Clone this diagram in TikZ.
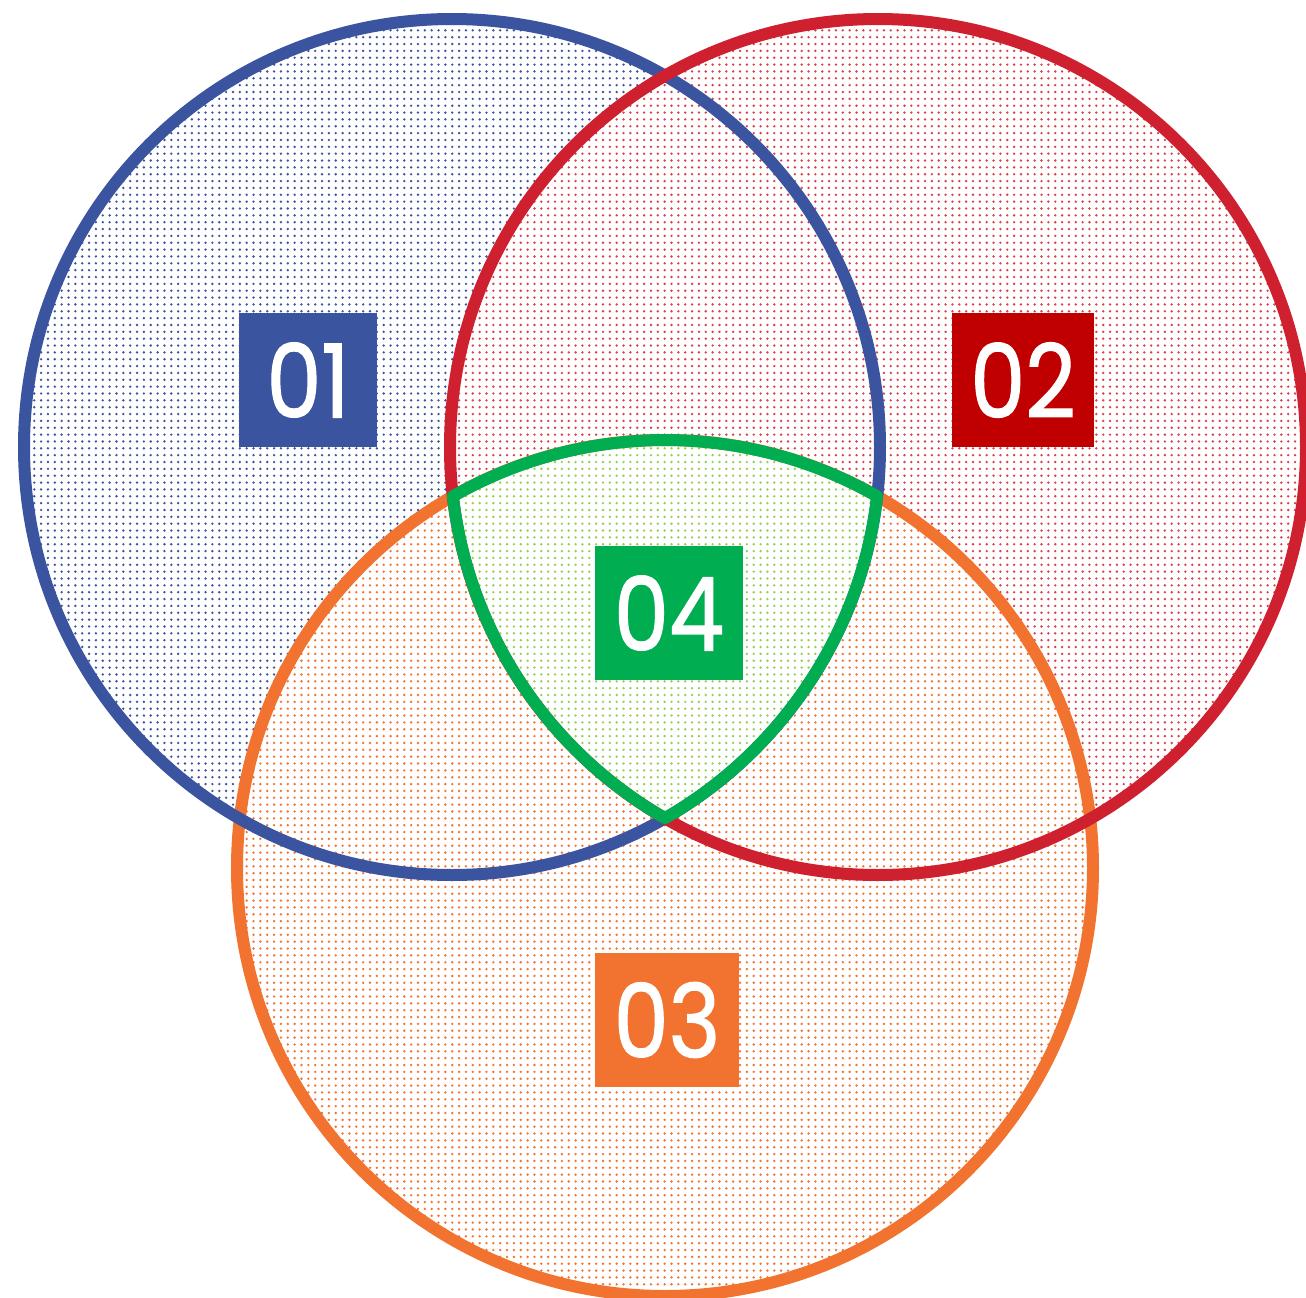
\documentclass[tikz,border=0pt]{standalone}
\usepackage{fontspec}
\newfontfamily\labelfont{Poppins}[FakeStretch=0.86, FakeBold=1.2]
\usetikzlibrary{patterns.meta}
\definecolor{SetBlue}{RGB}{59, 84, 160}
\definecolor{SetRed}{RGB}{206, 32, 46}
\definecolor{DotRed}{RGB}{222, 62, 72}
\definecolor{BoxRed}{RGB}{192, 0, 0}
\definecolor{SetOrange}{RGB}{242, 114, 48}
\definecolor{SetGreen}{RGB}{0, 173, 80}
\definecolor{DotGreen}{RGB}{146, 208, 80}

\begin{document}
\begin{tikzpicture}[x=0.02cm, y=-0.02cm,
    setfill/.style={preaction={fill=white}, pattern={Dots[distance=3.9pt, radius=0.75pt]}, pattern color=#1},
    setline/.style={draw=#1, line width=0.24cm},
    numbox/.style={fill=#1, text=white, inner sep=0pt, minimum height=2.7cm, font=\labelfont\fontsize{58}{60}\selectfont}]
    \useasboundingbox (0,0) rectangle (1306,1298);

    % Dotted set fills
    \foreach \col/\x/\y in {SetBlue/452/447, DotRed/878/447, SetOrange/665/868} {
        \path[setfill=\col] (\x,\y) circle[radius=428];
    }

    % Common part of all three sets
    \path[setfill=DotGreen] (452.9,496.3) arc[start angle=-119.71, end angle=-60.29, radius=428]
        arc[start angle=6.62, end angle=60.15, radius=428]
        arc[start angle=119.85, end angle=173.38, radius=428] -- cycle;

    % Set outlines
    \draw[setline=SetOrange] (665,868) circle[radius=428];
    \draw[setline=SetBlue] (452,447) circle[radius=428];
    \draw[setline=SetRed] (878,447) circle[radius=428];
    \draw[setline=SetGreen, line join=round] (452.9,496.3) arc[start angle=-119.71, end angle=-60.29, radius=428]
        arc[start angle=6.62, end angle=60.15, radius=428]
        arc[start angle=119.85, end angle=173.38, radius=428] -- cycle;

    % Number boxes
    \node[numbox=SetBlue, minimum width=2.76cm] (one) at (308,380) {01};
    \node[numbox=BoxRed, minimum width=2.86cm] (two) at (1023,380) {02};
    \node[numbox=SetOrange, minimum width=2.88cm] (three) at (667,1020) {03};
    \node[numbox=SetGreen, minimum width=2.96cm, minimum height=2.68cm] (four) at (669,613) {04};
\end{tikzpicture}
\end{document}
